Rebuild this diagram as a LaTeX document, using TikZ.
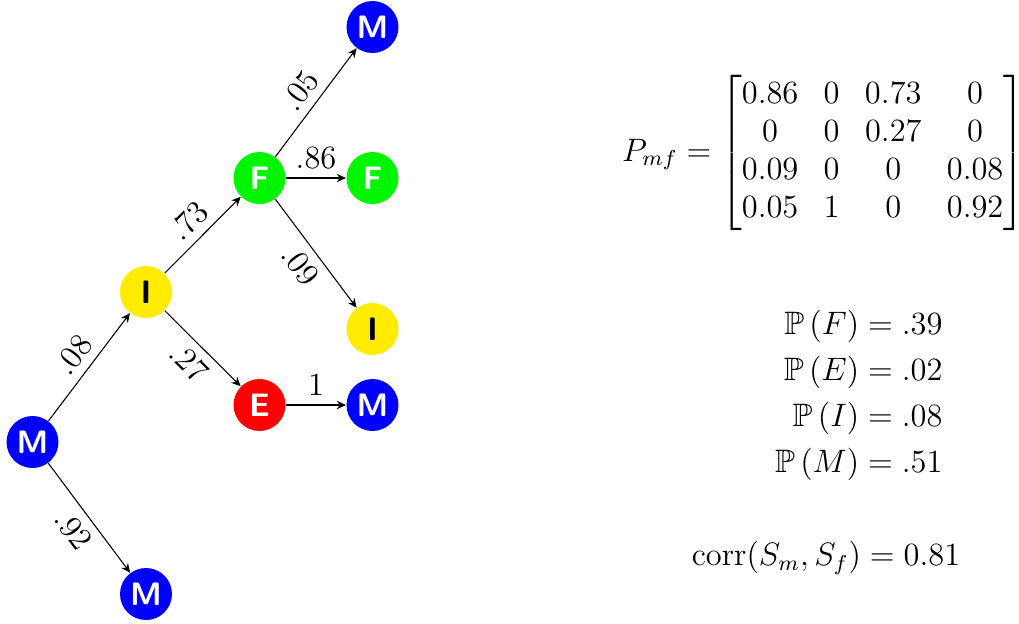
\documentclass[tikz,border=0pt]{standalone}
\usepackage{amsmath,amssymb}
\usepackage{fontspec}
\usetikzlibrary{arrows.meta}
\definecolor{nblue}{RGB}{0,0,255}
\definecolor{ngreen}{RGB}{0,245,0}
\definecolor{nyellow}{RGB}{255,236,0}
\definecolor{nred}{RGB}{255,0,0}
\newcommand{\nodefont}{\fontencoding{OT1}\fontfamily{cmss}\fontseries{bx}\fontshape{n}\fontsize{12.2}{14}\selectfont}
\begin{document}
\begin{tikzpicture}[x=0.37pt,y=-0.37pt,
  st/.style={circle, minimum size=19.24pt, inner sep=0pt, font=\nodefont, text=white},
  mst/.style={st, fill=nblue},
  fst/.style={st, fill=ngreen},
  ist/.style={st, fill=nyellow, text=black},
  est/.style={st, fill=nred},
  edge/.style={-{Stealth[length=3.4pt,width=3.1pt,inset=1.1pt]}, line width=0.4pt},
  lab/.style={font=\fontsize{12}{14}\selectfont, midway, sloped},
  txt/.style={font=\fontsize{12}{14}\selectfont}
]
\useasboundingbox (0,0) rectangle (1019,623);
\node[mst] (m0) at (32.5,442) {M};
\node[ist] (i1) at (146,292) {I};
\node[mst] (m1) at (146,594) {M};
\node[fst] (f2) at (259.5,178) {F};
\node[est] (e2) at (259.5,405) {E};
\node[mst] (m3a) at (372.5,27) {M};
\node[fst] (f3) at (372.5,178) {F};
\node[ist] (i3) at (372.5,329) {I};
\node[mst] (m3b) at (372.5,405) {M};

\draw[edge] (m0) -- node[lab, above] {$.08$} (i1);
\draw[edge] (m0) -- node[lab, below] {$.92$} (m1);
\draw[edge] (i1) -- node[lab, above] {$.73$} (f2);
\draw[edge] (i1) -- node[lab, below] {$.27$} (e2);
\draw[edge] (f2) -- node[lab, above] {$.05$} (m3a);
\draw[edge] (f2) -- node[lab, above] {$.86$} (f3);
\draw[edge] (f2) -- node[lab, below] {$.09$} (i3);
\draw[edge] (e2) -- node[lab, above] {$1$} (m3b);

\node[txt] (pmat) at (823.5,153) {\setlength{\arraycolsep}{4.7pt}$P_{mf} = \begin{bmatrix} 0.86 & 0 & 0.73 & 0\\ 0 & 0 & 0.27 & 0\\ 0.09 & 0 & 0 & 0.08\\ 0.05 & 1 & 0 & 0.92\end{bmatrix}$};
\node[txt, anchor=east, inner sep=0pt] (probs) at (943,396) {$\begin{aligned} \mathbb{P}\left(F\right) &= .39\\ \mathbb{P}\left(E\right) &= .02\\ \mathbb{P}\left(I\right) &= .08\\ \mathbb{P}\left(M\right) &= .51\end{aligned}$};
\node[txt] (corr) at (826,558) {$\operatorname{corr}(S_m, S_f) = 0.81$};
\end{tikzpicture}
\end{document}
